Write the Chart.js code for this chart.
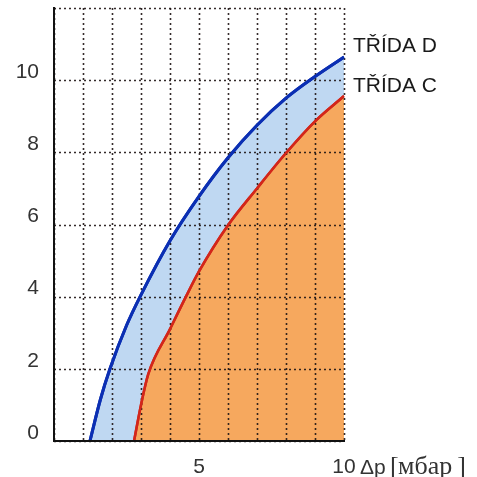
<!DOCTYPE html>
<html>
<head>
<meta charset="utf-8">
<script src="https://cdn.jsdelivr.net/npm/chart.js@4/dist/chart.umd.min.js"></script>
<style>
  html, body { margin: 0; padding: 0; background: #fff; }
  #wrap { width: 477px; height: 477px; }
</style>
</head>
<body>
<div id="wrap"><canvas id="ClassChart"></canvas></div>
<script>
// curve D (blue) and curve C (red)
const blueX = [1.24, 1.6, 1.93, 2.5, 3, 4, 5, 6, 7, 8, 9, 10];
const blueY = [0, 1.15, 2, 3.2, 4.05, 5.55, 6.78, 7.85, 8.75, 9.5, 10.1, 10.64];
const redX = [2.76, 3, 3.25, 4, 4.55, 5, 6, 7, 8, 9, 10];
const redY = [0, 1.0, 1.85, 3.1, 4.0, 4.7, 5.98, 7.0, 7.98, 8.86, 9.56];
const xTicksShown = [5, 10];
const seriesLabels = ['TŘÍDA D', 'TŘÍDA C'];
const xUnit = 'Δp';
const xUnitWord = 'мбар';

function toPoints(xs, ys) {
    return xs.map((x, i) => ({x: x, y: ys[i]}));
}

// dotted grid over the coloured areas, then the two curves again on top
const gridOverFill = {
    id: 'gridOverFill',
    afterDatasetsDraw(chart) {
        const c = chart.ctx;
        const a = chart.chartArea;
        const sx = chart.scales.x, sy = chart.scales.y;
        c.save();
        c.strokeStyle = 'rgba(30,20,20,0.9)';
        c.lineWidth = 1.6;
        c.setLineDash([2, 3]);
        sx.ticks.forEach(t => {
            const px = Math.round(sx.getPixelForValue(t.value)) + 0.5;
            c.beginPath(); c.moveTo(px, a.top); c.lineTo(px, a.bottom); c.stroke();
        });
        sy.ticks.forEach(t => {
            const py = Math.round(sy.getPixelForValue(t.value)) + 0.5;
            c.beginPath(); c.moveTo(a.left, py); c.lineTo(a.right, py); c.stroke();
        });
        c.restore();
        const metas = chart.getSortedVisibleDatasetMetas();
        for (let i = metas.length - 1; i >= 0; i--) {
            c.save();
            metas[i].dataset.draw(c, a);
            c.restore();
        }
        // solid axis lines left and bottom
        c.save();
        c.strokeStyle = '#111';
        c.lineWidth = 2;
        c.beginPath();
        c.moveTo(a.left, a.top); c.lineTo(a.left, a.bottom); c.lineTo(a.right, a.bottom);
        c.stroke();
        c.restore();
    }
};

const textPlugin = {
    id: 'sideText',
    afterDraw(chart) {
        const c = chart.ctx;
        c.save();
        c.fillStyle = '#1a1a1a';
        c.textBaseline = 'alphabetic';
        c.textAlign = 'left';
        c.font = '21px "Liberation Sans", Arial, sans-serif';
        c.fillText(seriesLabels[0], 353, 52);
        c.fillText(seriesLabels[1], 353, 92);
        c.fillStyle = '#333';
        c.fillText(xUnit, 360, 474);
        c.font = '26px "Liberation Serif", "Times New Roman", serif';
        c.fillText('[', 390, 474);
        c.fillText(xUnitWord, 398, 474);
        const w = c.measureText(xUnitWord).width;
        c.fillText(']', 398 + w + 5, 474);
        c.restore();
    }
};

let ctx = document.getElementById('ClassChart').getContext('2d');
let classChart = new Chart(ctx, {
    type: 'line',
    data: {
        datasets: [{
            label: seriesLabels[1],
            data: toPoints(redX, redY),
            borderColor: '#d3261a',
            borderWidth: 2.5,
            backgroundColor: '#f6a85e',
            fill: 'origin',
            pointRadius: 0,
            cubicInterpolationMode: 'monotone'
        },
        {
            label: seriesLabels[0],
            data: toPoints(blueX, blueY),
            borderColor: '#0b2fb3',
            borderWidth: 3,
            backgroundColor: '#bfd8f2',
            fill: 'origin',
            pointRadius: 0,
            cubicInterpolationMode: 'monotone'
        }]
    },
    options: {
        responsive: true,
        maintainAspectRatio: false,
        animation: false,
        layout: {
            padding: {top: 8, right: 133, left: 0, bottom: 0}
        },
        scales: {
            x: {
                type: 'linear',
                min: 0,
                max: 10,
                afterFit: function(scale) { scale.height = 36; },
                grid: {color: 'rgba(0,0,0,0)', drawTicks: false},
                border: {display: true, color: '#111', width: 2},
                ticks: {
                    stepSize: 1,
                    autoSkip: false,
                    maxRotation: 0,
                    minRotation: 0,
                    padding: 14,
                    color: '#333',
                    font: {size: 21, family: '"Liberation Sans", Arial, sans-serif'},
                    callback: (v) => (xTicksShown.includes(v) ? String(v) : '')
                }
            },
            y: {
                type: 'linear',
                min: 0,
                max: 12,
                afterFit: function(scale) {
                    scale.width = 54;
                    scale.paddingTop = 0;
                    scale.paddingBottom = 0;
                },
                grid: {color: 'rgba(0,0,0,0)', drawTicks: false},
                border: {display: true, color: '#111', width: 2},
                ticks: {
                    stepSize: 2,
                    autoSkip: false,
                    padding: 15,
                    labelOffset: -8,
                    color: '#333',
                    font: {size: 21, family: '"Liberation Sans", Arial, sans-serif'},
                    callback: (v) => (v < 12 ? String(v) : '')
                }
            }
        },
        plugins: {
            legend: {display: false},
            tooltip: {enabled: false}
        }
    },
    plugins: [gridOverFill, textPlugin]
});
</script>
</body>
</html>
